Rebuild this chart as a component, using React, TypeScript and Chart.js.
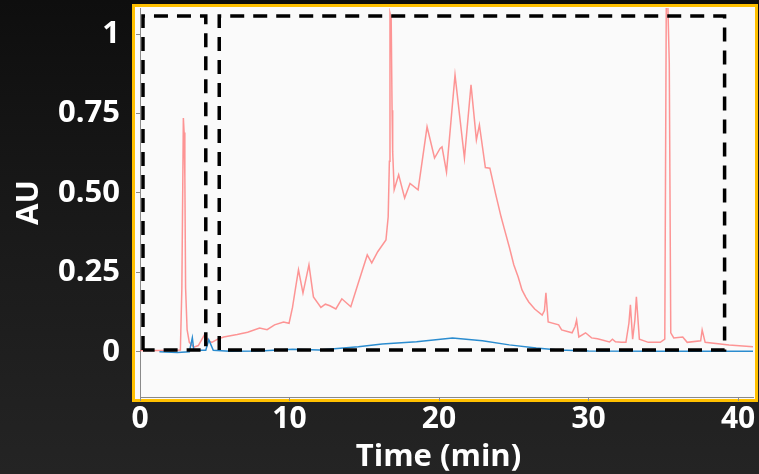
import React, { useEffect, useRef } from "react";
import { Chart, registerables } from "chart.js";

Chart.register(...registerables);

// Red trace (time in min, absorbance AU)
const redTime = [
  0, 1.0, 2.0, 2.7, 2.8, 2.9, 2.95, 3.0, 3.05, 3.15, 3.3, 3.6, 3.9, 4.3, 4.6, 4.8, 5.2, 5.6,
  6.5, 7.2, 8.0, 8.5, 9.0, 9.6, 9.97, 10.2, 10.4, 10.6, 10.9, 11.3, 11.6, 12.1, 12.4, 12.7,
  13.1, 13.5, 14.1, 14.6, 15.2, 15.5, 15.9, 16.45, 16.6, 16.68, 16.72, 16.8, 16.86, 16.9,
  17.0, 17.3, 17.7, 18.06, 18.6, 19.2, 19.7, 20.07, 20.2, 20.5, 21.07, 21.7, 22.14, 22.5,
  22.7, 23.1, 23.4, 23.8, 24.15, 24.35, 24.7, 25.0, 25.3, 25.55, 25.8, 26.0, 26.4, 26.9,
  27.05, 27.15, 27.3, 28.0, 28.2, 28.9, 29.1, 29.2, 29.35, 29.8, 30.2, 30.6, 31.4, 31.6, 31.8,
  32.2, 32.5, 32.7, 32.8, 32.95, 33.1, 33.2, 33.4, 34.0, 34.8, 35.1, 35.2, 35.3, 35.4, 35.5,
  35.7, 36.3, 36.6, 37.5, 37.6, 37.8, 39.4, 41,
];
const redAU = [
  0.004, 0.004, 0.004, 0.006, 0.2, 0.736, 0.69, 0.55, 0.2, 0.07, 0.03, 0.015, 0.02, 0.053,
  0.035, 0.03, 0.04, 0.047, 0.055, 0.062, 0.075, 0.07, 0.085, 0.094, 0.09, 0.14, 0.2, 0.258,
  0.185, 0.274, 0.173, 0.14, 0.15, 0.145, 0.135, 0.167, 0.142, 0.217, 0.305, 0.28, 0.315,
  0.352, 0.425, 0.6, 1.066, 1.05, 0.76, 0.63, 0.51, 0.557, 0.484, 0.53, 0.51, 0.708, 0.61,
  0.64, 0.645, 0.566, 0.871, 0.61, 0.84, 0.667, 0.714, 0.58, 0.578, 0.494, 0.425, 0.39,
  0.33, 0.274, 0.235, 0.195, 0.172, 0.157, 0.135, 0.116, 0.13, 0.186, 0.094, 0.085, 0.069,
  0.06, 0.08, 0.1, 0.047, 0.06, 0.044, 0.041, 0.031, 0.04, 0.032, 0.03, 0.03, 0.09, 0.148,
  0.04, 0.1, 0.173, 0.04, 0.03, 0.03, 0.04, 1.1, 1.1, 0.91, 0.06, 0.044, 0.047, 0.03, 0.035,
  0.069, 0.03, 0.022, 0.016,
];

// Blue trace
const blueTime = [
  1.3, 2.5, 3.3, 3.5, 3.6, 4.4, 4.6, 4.9, 6, 8, 10.2, 12, 14.6, 16.2, 18.5, 20.9, 22.9, 24.7,
  26.5, 28, 30, 35, 41,
];
const blueAU = [
  0.0, -0.002, 0.0, 0.044, 0.005, 0.005, 0.038, 0.005, 0.002, 0.003, 0.008, 0.006, 0.016,
  0.025, 0.032, 0.044, 0.035, 0.022, 0.012, 0.006, 0.003, 0.002, 0.002,
];

// Dashed selection boxes
const box1Time = [0.2, 0.2, 4.4, 4.4, 0.2];
const box1AU = [0.006, 1.057, 1.057, 0.006, 0.006];
const box2Time = [5.3, 5.3, 39.1, 39.1, 5.3];
const box2AU = [0.006, 1.057, 1.057, 0.006, 0.006];

const xTicks = [0, 10, 20, 30, 40];
const xTickLabels = ["0", "10", "20", "30", "40"];
const yTicks = [0, 0.25, 0.5, 0.75, 1];
const yTickLabels = ["0", "0.25", "0.50", "0.75", "1"];
const xTitle = "Time (min)";
const yTitle = "AU";

const toPts = (xs: number[], ys: number[]) => xs.map((x, i) => ({ x, y: ys[i] }));

const FONT = "'Open Sans'";

const panelPlugin = {
  id: "panel",
  beforeDraw(chart: any) {
    const { ctx, chartArea } = chart;
    const l = chartArea.left - 5;
    const t = chartArea.top - 1;
    const r = chartArea.right + 2;
    const b = chartArea.bottom + 2;
    ctx.save();
    ctx.fillStyle = "#fafafa";
    ctx.fillRect(l, t, r - l, b - t);
    ctx.strokeStyle = "#ffc000";
    ctx.lineWidth = 3;
    ctx.strokeRect(l - 1.5, t - 1.5, r - l + 3, b - t + 3);
    ctx.restore();
  },
};

// x-axis title, drawn slightly left of the plot centre as in the reference
const xTitlePlugin = {
  id: "xTitle",
  afterDraw(chart: any) {
    const { ctx, chartArea } = chart;
    ctx.save();
    ctx.fillStyle = "#ffffff";
    ctx.font = `bold 31px ${FONT}`;
    ctx.textAlign = "center";
    ctx.textBaseline = "alphabetic";
    ctx.fillText(xTitle, (chartArea.left + chartArea.right) / 2 - 8, chartArea.bottom + 69);
    ctx.restore();
  },
};

export default function App() {
  const ref = useRef<HTMLCanvasElement>(null);
  useEffect(() => {
    if (!ref.current) return;
    const chart = new Chart(ref.current, {
      type: "line",
      data: {
        datasets: [
          {
            data: toPts(redTime, redAU),
            borderColor: "rgba(255, 80, 80, 0.6)",
            borderWidth: 1.5,
            pointRadius: 0,
            tension: 0,
            order: 3,
          },
          {
            data: toPts(blueTime, blueAU),
            borderColor: "#2b8ccf",
            borderWidth: 1.5,
            pointRadius: 0,
            tension: 0,
            order: 2,
          },
          {
            data: toPts(box1Time, box1AU),
            borderColor: "#000",
            borderWidth: 3.5,
            borderDash: [14, 9],
            pointRadius: 0,
            order: 1,
          },
          {
            data: toPts(box2Time, box2AU),
            borderColor: "#000",
            borderWidth: 3.5,
            borderDash: [14, 9],
            pointRadius: 0,
            order: 1,
          },
        ],
      },
      options: {
        animation: false,
        responsive: false,
        devicePixelRatio: 1,
        layout: { padding: { top: 8, right: 6, left: 0, bottom: 0 } },
        plugins: { legend: { display: false }, tooltip: { enabled: false } },
        scales: {
          x: {
            type: "linear",
            min: 0,
            max: 41,
            afterFit: (s: any) => {
              s.height = 77;
              s.paddingLeft = 0;
              s.paddingRight = 0;
            },
            afterBuildTicks: (s: any) => {
              s.ticks = xTicks.map((v) => ({ value: v }));
            },
            ticks: {
              color: "#ffffff",
              font: { family: FONT, size: 30, weight: "bold" },
              padding: 0,
              maxRotation: 0,
              callback: (v: any) => xTickLabels[xTicks.indexOf(Number(v))] ?? "",
            },
            grid: { drawOnChartArea: false, drawTicks: true, tickLength: 4, color: "#8a8a8a" },
            border: { display: true, color: "#8a8a8a", width: 1 },
            title: { display: false, text: xTitle },
          },
          y: {
            type: "linear",
            min: -0.142,
            max: 1.082,
            afterFit: (s: any) => {
              s.width = 140;
              s.paddingTop = 0;
              s.paddingBottom = 0;
            },
            afterBuildTicks: (s: any) => {
              s.ticks = yTicks.map((v) => ({ value: v }));
            },
            ticks: {
              color: "#ffffff",
              font: { family: FONT, size: 31, weight: "bold" },
              padding: 16,
              callback: (v: any) => yTickLabels[yTicks.indexOf(Number(v))] ?? "",
            },
            grid: { drawOnChartArea: false, drawTicks: true, tickLength: 4, color: "#8a8a8a" },
            border: { display: true, color: "#8a8a8a", width: 1 },
            title: {
              display: true,
              text: yTitle,
              color: "#ffffff",
              font: { family: FONT, size: 31, weight: "bold" },
              padding: { top: 11, bottom: 0 },
            },
          },
        },
      },
      plugins: [panelPlugin, xTitlePlugin],
    });
    return () => chart.destroy();
  }, []);

  return (
    <div
      style={{
        position: "fixed",
        left: 0,
        top: 0,
        width: 759,
        height: 474,
        background: "linear-gradient(180deg, #0e0e0e 0%, #1a1a1a 50%, #242424 100%)",
      }}
    >
      <canvas ref={ref} width={759} height={474} style={{ display: "block" }} />
    </div>
  );
}
